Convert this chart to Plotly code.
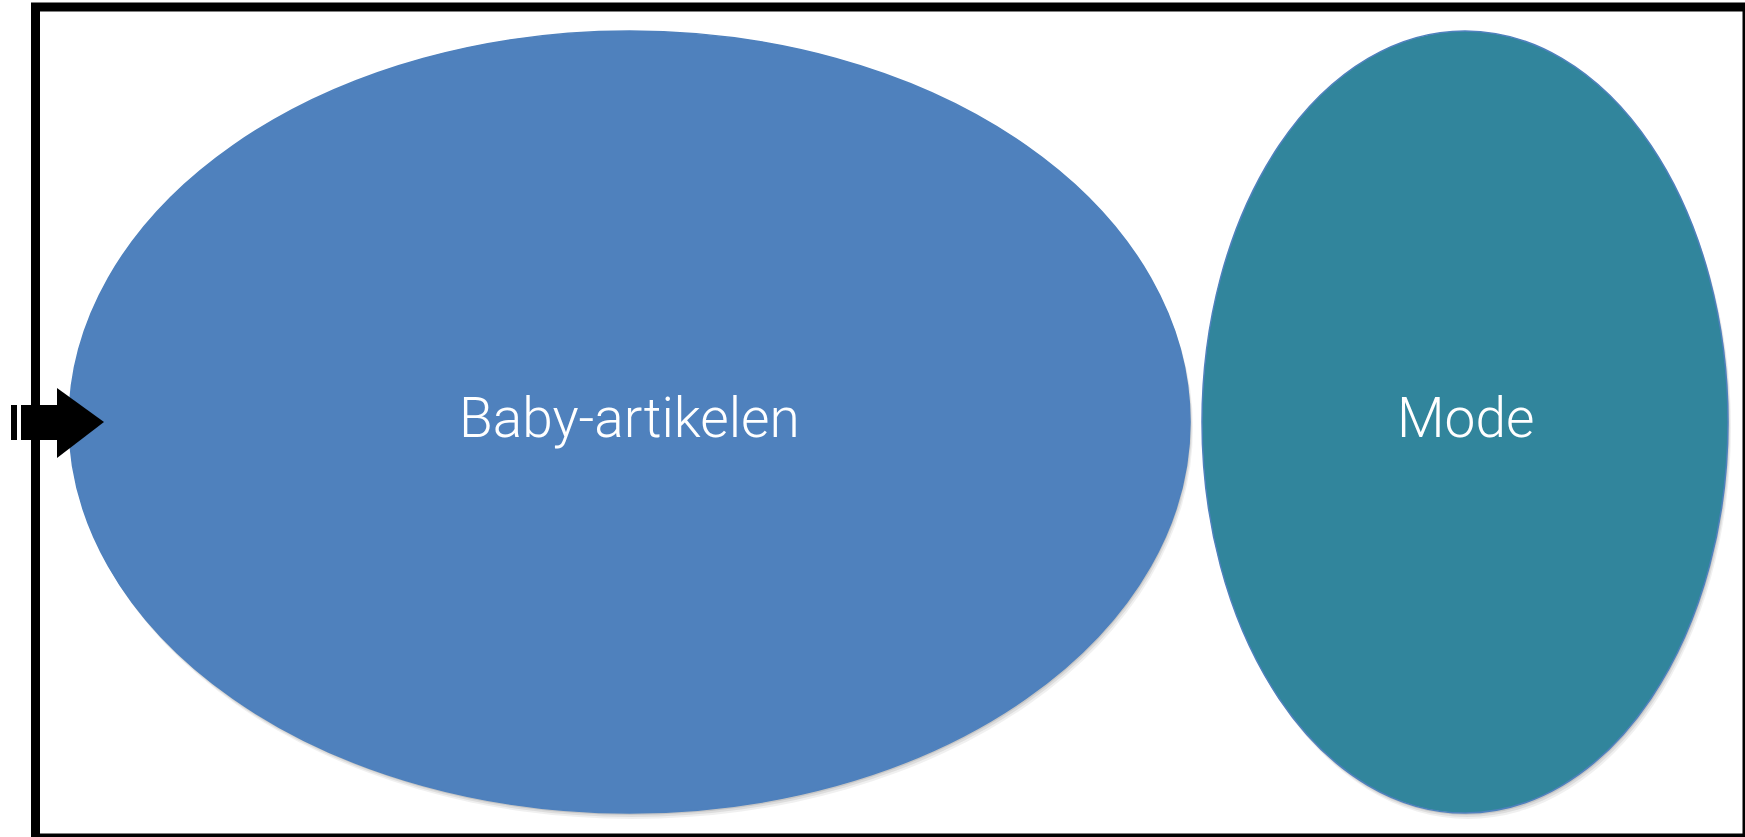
import plotly.graph_objects as go

# segments of the diagram
labels = ["Baby-artikelen", "Mode"]
fill_colors = ["#4F81BD", "#31859C"]

W, H = 1745, 837

# ellipse boxes in page pixels (x0, y0, x1, y1)
boxes = [(69, 31, 1190, 813), (1202, 31, 1728, 813)]

fig = go.Figure()
fig.add_trace(go.Scatter(x=[0, W], y=[0, H], mode="markers",
                         marker=dict(opacity=0), hoverinfo="skip", showlegend=False))

shapes = []
# outer frame
shapes.append(dict(type="rect", xref="x", yref="y", x0=35.5, y0=7, x1=W + 2, y1=H + 1,
                   line=dict(color="black", width=9), fillcolor="rgba(0,0,0,0)"))

for (x0, y0, x1, y1), col in zip(boxes, fill_colors):
    # soft drop shadow
    for off, a in [(6, 0.06), (4, 0.08), (2, 0.10)]:
        shapes.append(dict(type="circle", xref="x", yref="y",
                           x0=x0 + off * 0.5, y0=y0 + off, x1=x1 + off * 0.5, y1=y1 + off,
                           fillcolor=f"rgba(0,0,0,{a})", line=dict(width=0)))
    shapes.append(dict(type="circle", xref="x", yref="y", x0=x0, y0=y0, x1=x1, y1=y1,
                       fillcolor=col, line=dict(color="#4F81BD", width=1.5)))

# arrow on the left edge
shapes.append(dict(type="rect", xref="x", yref="y", x0=11, y0=405, x1=17, y1=440,
                   fillcolor="black", line=dict(width=0)))
shapes.append(dict(type="rect", xref="x", yref="y", x0=21, y0=405, x1=58, y1=440,
                   fillcolor="black", line=dict(width=0)))
shapes.append(dict(type="path", xref="x", yref="y",
                   path="M 57 388 L 104 422 L 57 458 Z",
                   fillcolor="black", line=dict(width=0)))

fig.update_layout(shapes=shapes)

for (x0, y0, x1, y1), lab in zip(boxes, labels):
    fig.add_annotation(x=(x0 + x1) / 2, y=(y0 + y1) / 2 - 4, xref="x", yref="y",
                       text=lab, showarrow=False,
                       font=dict(family="Roboto, Open Sans, sans-serif", size=55,
                                 color="white", weight=300))

fig.update_layout(
    width=W, height=H,
    margin=dict(l=0, r=0, t=0, b=0),
    paper_bgcolor="white", plot_bgcolor="white",
    xaxis=dict(range=[0, W], visible=False, fixedrange=True),
    yaxis=dict(range=[H, 0], visible=False, fixedrange=True),
    showlegend=False,
)

fig.write_html("out.html", config={"displayModeBar": False},
               post_script="document.body.style.margin='0';")
